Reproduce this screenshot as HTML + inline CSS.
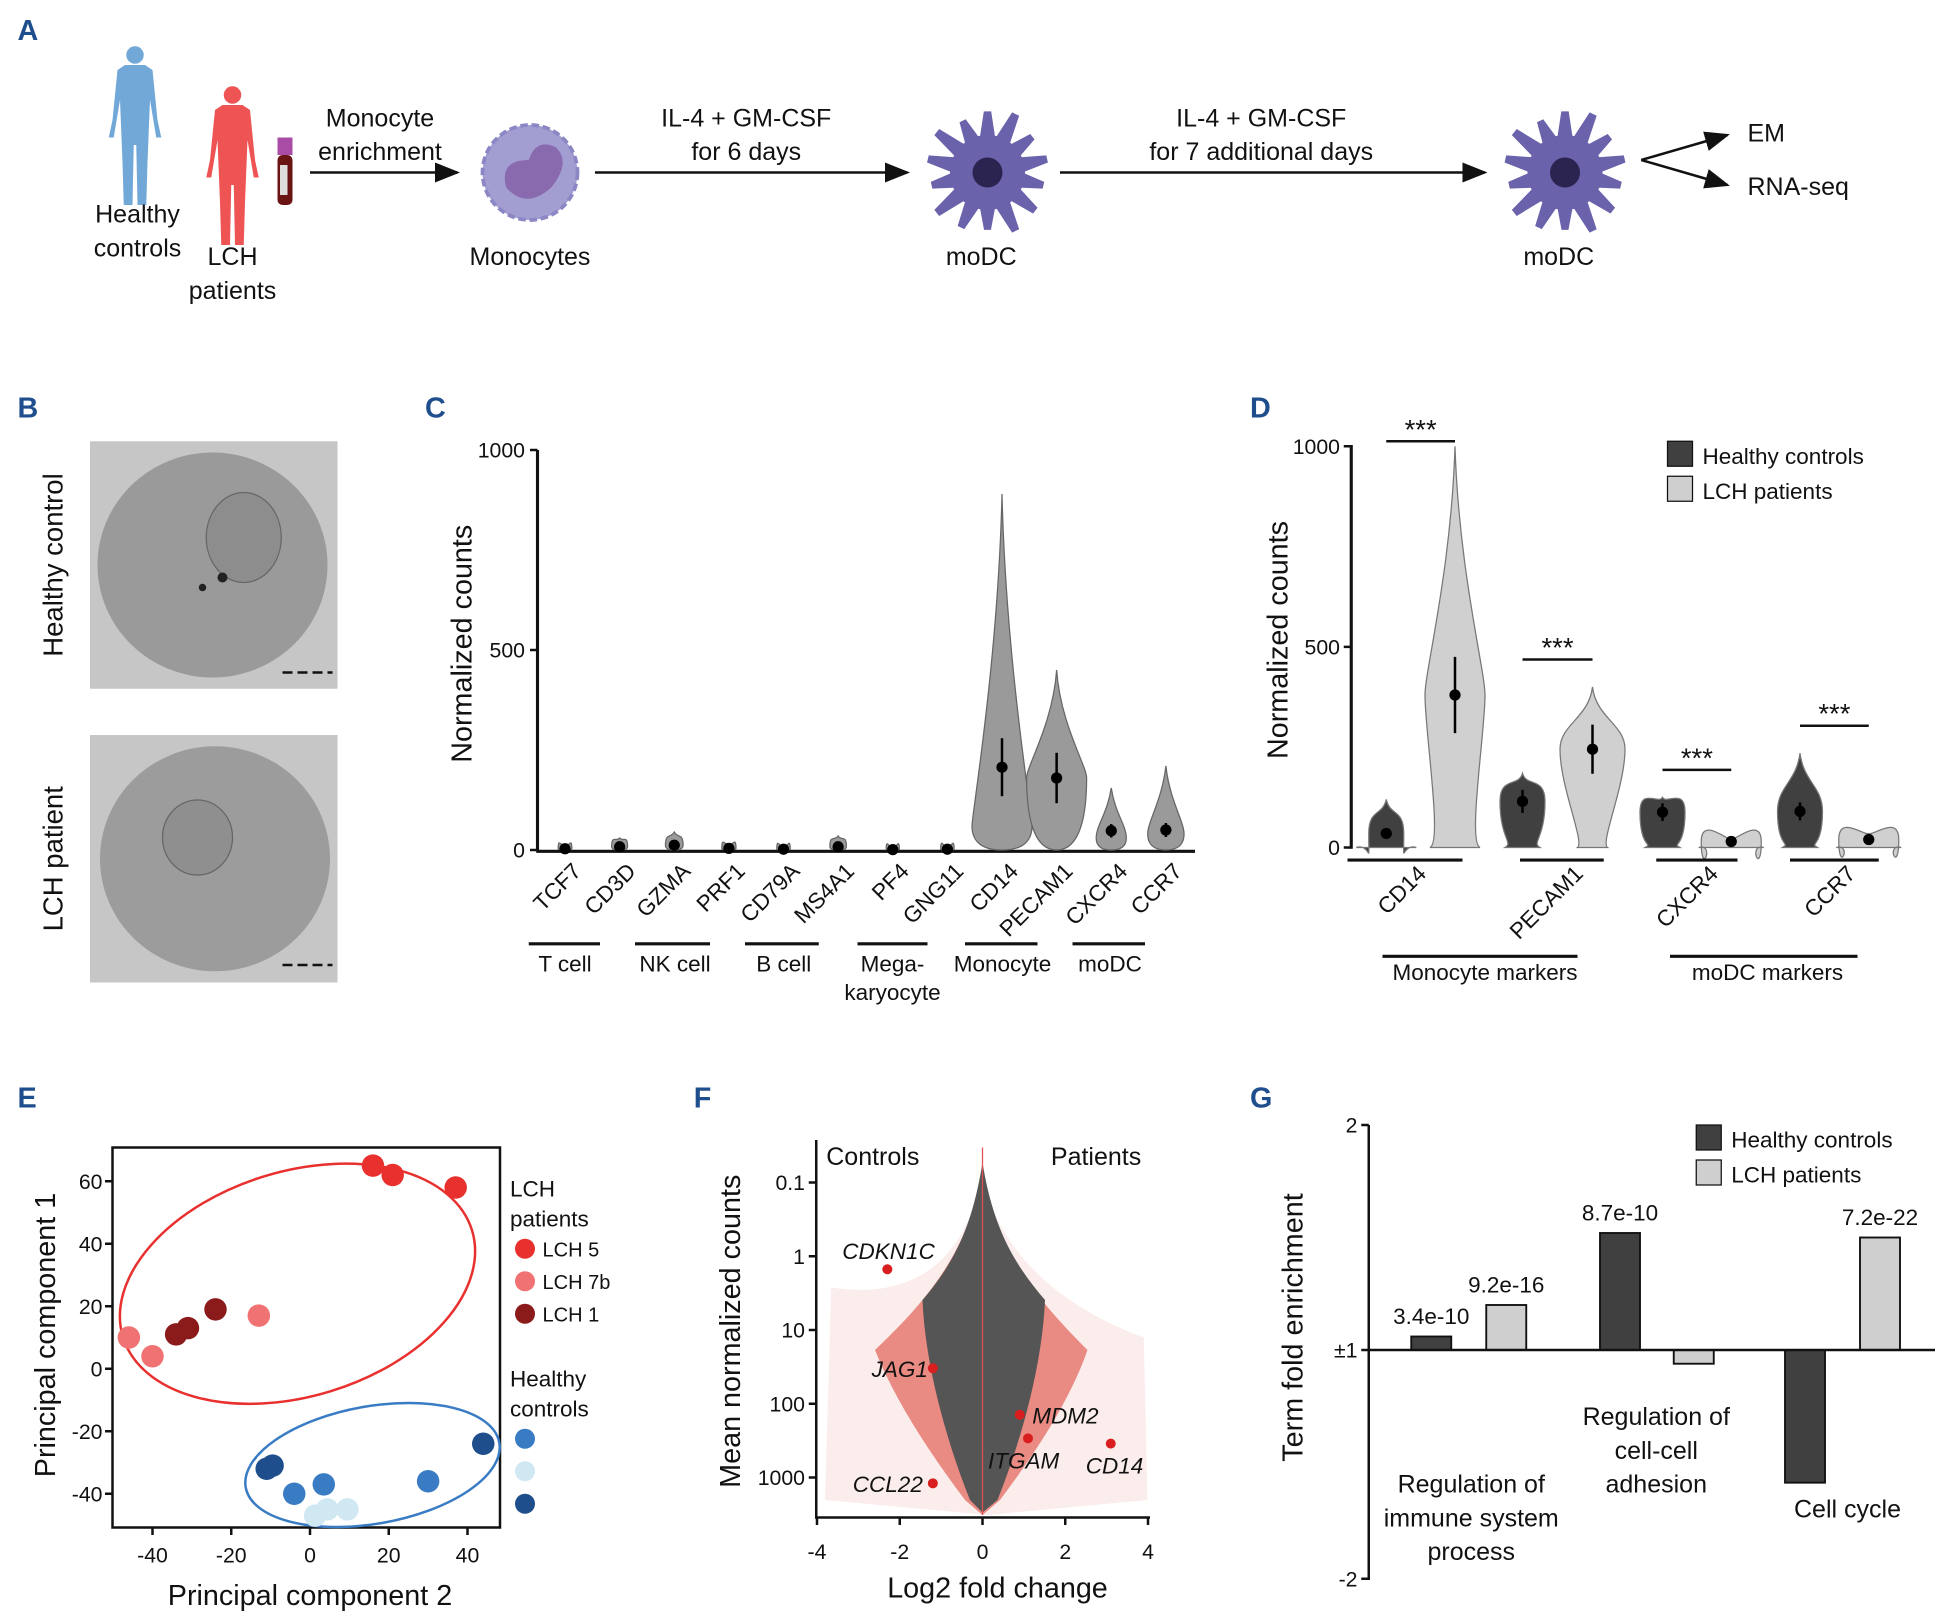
<!DOCTYPE html>
<html><head><meta charset="utf-8"><style>
html,body{margin:0;padding:0;background:#fff;}
svg{display:block;font-family:"Liberation Sans",Arial,sans-serif;}
.lbl{font-size:20px;fill:#111;}
.tick{font-size:17px;fill:#111;}
.pl{font-size:23px;font-weight:bold;fill:#1f4e8c;}
</style></head><body>
<svg id="fig" width="1950" height="1618" viewBox="0 0 1560 1294.4" xmlns="http://www.w3.org/2000/svg">
<defs><marker id="ah" markerWidth="10" markerHeight="10" refX="9" refY="5" orient="auto"><path d="M0,1 L10,5 L0,9 z" fill="#111"/></marker></defs>

<!-- Panel A -->
<g>
<text class="pl" x="14" y="32">A</text>
<g fill="#72a8d8">
<circle cx="108" cy="44" r="7"/><path d="M100,52 h16 l6,4 l4,40 l3,14 h-4 l-5,-30 l-2,50 l-1,34 h-7 l-1,-48 h-2 l-1,48 h-7 l-1,-34 l-2,-50 l-5,30 h-4 l3,-14 l4,-40 z"/>
</g>
<g fill="#ef5454">
<circle cx="186" cy="76" r="7"/><path d="M178,84 h16 l6,4 l4,40 l3,14 h-4 l-5,-30 l-2,50 l-1,34 h-7 l-1,-48 h-2 l-1,48 h-7 l-1,-34 l-2,-50 l-5,30 h-4 l3,-14 l4,-40 z"/>
</g>
<g><rect x="222" y="110" width="12" height="14" fill="#a84ca6"/><rect x="222" y="124" width="12" height="40" rx="4" fill="#6b1414"/><rect x="224" y="132" width="6" height="24" fill="#ddd"/></g>
<text class="lbl" x="110" y="178" text-anchor="middle">Healthy</text>
<text class="lbl" x="110" y="205" text-anchor="middle">controls</text>
<text class="lbl" x="186" y="212" text-anchor="middle">LCH</text>
<text class="lbl" x="186" y="239" text-anchor="middle">patients</text>
<text class="lbl" x="304" y="101" text-anchor="middle">Monocyte</text>
<text class="lbl" x="304" y="128" text-anchor="middle">enrichment</text>
<line x1="248" y1="138" x2="366" y2="138" stroke="#111" stroke-width="2" marker-end="url(#ah)"/>
<g><circle cx="424" cy="138" r="38" fill="#a39ed2" stroke="#8b86c4" stroke-width="3" stroke-dasharray="6 3"/><path d="M405,150 q-6,-22 18,-22 q6,-18 22,-10 q12,12 -4,32 q-20,18 -36,0z" fill="#8a6aae"/></g>
<text class="lbl" x="424" y="212" text-anchor="middle">Monocytes</text>
<text class="lbl" x="597" y="101" text-anchor="middle">IL-4 + GM-CSF</text>
<text class="lbl" x="597" y="128" text-anchor="middle">for 6 days</text>
<line x1="476" y1="138" x2="726" y2="138" stroke="#111" stroke-width="2" marker-end="url(#ah)"/>
<g id="dc1"></g>
<text class="lbl" x="785" y="212" text-anchor="middle">moDC</text>
<text class="lbl" x="1009" y="101" text-anchor="middle">IL-4 + GM-CSF</text>
<text class="lbl" x="1009" y="128" text-anchor="middle">for 7 additional days</text>
<line x1="848" y1="138" x2="1188" y2="138" stroke="#111" stroke-width="2" marker-end="url(#ah)"/>
<g id="dc2"></g>
<text class="lbl" x="1247" y="212" text-anchor="middle">moDC</text>
<line x1="1313" y1="128" x2="1382" y2="108" stroke="#111" stroke-width="2" marker-end="url(#ah)"/>
<line x1="1313" y1="128" x2="1382" y2="148" stroke="#111" stroke-width="2" marker-end="url(#ah)"/>
<text class="lbl" x="1398" y="113">EM</text>
<text class="lbl" x="1398" y="156">RNA-seq</text>
</g>

<!-- Panel B -->
<g>
<text class="pl" x="14" y="334">B</text>
<text class="lbl" transform="translate(50,452) rotate(-90)" text-anchor="middle" style="font-size:22px">Healthy control</text>
<text class="lbl" transform="translate(50,687) rotate(-90)" text-anchor="middle" style="font-size:22px">LCH patient</text>
<g><rect x="72" y="353" width="198" height="198" fill="#c6c6c6"/><ellipse cx="170" cy="452" rx="92" ry="90" fill="#9a9a9a"/><ellipse cx="195" cy="430" rx="30" ry="36" fill="#8d8d8d" stroke="#666"/><circle cx="178" cy="462" r="4" fill="#222"/><circle cx="162" cy="470" r="3" fill="#222"/><line x1="226" y1="538" x2="266" y2="538" stroke="#111" stroke-width="2" stroke-dasharray="8 4"/></g>
<g><rect x="72" y="588" width="198" height="198" fill="#c6c6c6"/><ellipse cx="172" cy="687" rx="92" ry="90" fill="#9c9c9c"/><ellipse cx="158" cy="670" rx="28" ry="30" fill="#8f8f8f" stroke="#666"/><line x1="226" y1="772" x2="266" y2="772" stroke="#111" stroke-width="2" stroke-dasharray="8 4"/></g>
</g>

<g id="panelC">
<text class="pl" x="340" y="334">C</text>
<text class="lbl" transform="translate(377,515) rotate(-90)" text-anchor="middle" style="font-size:23px">Normalized counts</text>
</g>
<g id="panelD">
<text class="pl" x="1000" y="334">D</text>
<text class="lbl" transform="translate(1030,512) rotate(-90)" text-anchor="middle" style="font-size:23px">Normalized counts</text>
<rect x="1334" y="353" width="20" height="20" fill="#404040" stroke="#111"/>
<text class="lbl" x="1362" y="371" style="font-size:18px">Healthy controls</text>
<rect x="1334" y="381" width="20" height="20" fill="#cfcfcf" stroke="#111"/>
<text class="lbl" x="1362" y="399" style="font-size:18px">LCH patients</text>
</g>
<g id="panelE">
<text class="pl" x="14" y="886">E</text>
</g>
<g id="panelF">
<text class="pl" x="555" y="886">F</text>
</g>
<g id="panelG">
<text class="pl" x="1000" y="886">G</text>
</g>
</svg>
<script>
const NS='http://www.w3.org/2000/svg';
// ---- data C ----
const cGenes=['TCF7','CD3D','GZMA','PRF1','CD79A','MS4A1','PF4','GNG11','CD14','PECAM1','CXCR4','CCR7'];
const cMax=[10,30,45,15,8,35,6,8,890,450,155,210];
const cMean=[3,8,12,4,2,8,1,2,207,180,48,50];
const cPeak=[3,8,12,4,2,8,1,2,60,180,30,40];
const cTicks=[0,500,1000];
const cGroups=['T cell','NK cell','B cell','Mega-','Monocyte','moDC'];
// ---- data D ----
const dGenes=['CD14','PECAM1','CXCR4','CCR7'];
const dHealthyMax=[120,185,125,235];
const dHealthyMean=[35,115,88,90];
const dLchMax=[1000,400,20,35];
const dLchMean=[380,245,15,20];
const dTicks=[0,500,1000];
// ---- data E ----
const eGroups=['LCH 5','LCH 7b','LCH 1','HC a','HC b','HC c'];
const ePC2=[[16,21,37],[-46,-40,-13],[-34,-31,-24],[3.5,30,-4],[4.4,9.5,1.3],[-9.5,-11,44]];
const ePC1=[[65,62,58],[10,4,17],[11,13,19],[-37,-36,-40],[-45,-45,-47],[-31,-32,-24]];
const eXTicks=[-40,-20,0,20,40];
const eYTicks=[60,40,20,0,-20,-40];
// ---- data F ----
const fGenes=['CDKN1C','JAG1','MDM2','ITGAM','CD14','CCL22'];
const fLfc=[-2.3,-1.2,0.9,1.1,3.1,-1.2];
const fMean=[1.5,33,141,295,347,1200];
const fXTicks=[-4,-2,0,2,4];
const fYTicks=[0.1,1,10,100,1000];
// ---- data G ----
const gTerms=['Regulation of immune system process','Regulation of cell-cell adhesion','Cell cycle'];
const gHealthy=[1.06,1.52,-1.58];
const gLch=[1.2,-1.06,1.5];
const gHealthyP=['3.4e-10','8.7e-10',''];
const gLchP=['9.2e-16','','7.2e-22'];

function mk(tag,attrs,parent,txt){const e=document.createElementNS(NS,tag);for(const k in attrs)e.setAttribute(k,attrs[k]);if(txt!==undefined)e.textContent=txt;parent.appendChild(e);return e;}

function dc(g,cx,cy){
  let d='';const n=14;
  for(let i=0;i<n;i++){const a=i/n*2*Math.PI;const a2=(i+0.5)/n*2*Math.PI;
    const r1=28,r2=46+(i%3)*3;
    d+=(i?'L':'M')+(cx+r1*Math.cos(a))+','+(cy+r1*Math.sin(a))+' L'+(cx+r2*Math.cos(a2-0.06))+','+(cy+r2*Math.sin(a2-0.06))+' L'+(cx+r2*Math.cos(a2+0.06))+','+(cy+r2*Math.sin(a2+0.06))+' ';}
  mk('path',{d:d+'Z',fill:'#6a62aa'},g);
  mk('circle',{cx,cy,r:30,fill:'#6a62aa'},g);
  mk('circle',{cx,cy,r:12,fill:'#2b2350'},g);
}
dc(document.getElementById('dc1'),790,138);dc(document.getElementById('dc2'),1252,138);

// ---- Panel C ----
(function(){
const g=document.getElementById('panelC');
const y0=680,y1=360,ys=v=>y0-(v/1000)*(y0-y1);
const x0=452,step=43.7,xs=i=>x0+i*step;
const ax=mk('line',{x1:430,y1:360,x2:430,y2:681,stroke:'#111','stroke-width':2.5},g);

const xa=mk('line',{x1:429,y1:681,x2:956,y2:681,stroke:'#111','stroke-width':2.5},g);

cTicks.forEach(t=>{mk('line',{x1:424,x2:430,y1:ys(t),y2:ys(t),stroke:'#111','stroke-width':2},g);
 const tx=mk('text',{x:420,y:ys(t)+6,'text-anchor':'end',class:'tick'},g,t);
 });
cGenes.forEach((gn,i)=>{
 const cx=xs(i),w=Math.min(24,5+cMax[i]/22);
 const top=ys(cMax[i]),pk=ys(cPeak[i]),bot=ys(0);
 const d=`M${cx},${top} C${cx+3},${top+ (pk-top)*0.5} ${cx+w},${pk-10} ${cx+w},${pk} C${cx+w},${(pk+bot)/2} ${cx+w*0.8},${bot} ${cx},${bot} C${cx-w*0.8},${bot} ${cx-w},${(pk+bot)/2} ${cx-w},${pk} C${cx-w},${pk-10} ${cx-3},${top+(pk-top)*0.5} ${cx},${top}Z`;
 const v=mk('path',{d,fill:'#9a9a9a',stroke:'#666','stroke-width':1},g);
 
 const m=mk('circle',{cx,cy:ys(cMean[i]),r:4.5,fill:'#000'},g);
 
 if(cMean[i]>30)mk('line',{x1:cx,x2:cx,y1:ys(cMean[i]*1.35),y2:ys(cMean[i]*0.65),stroke:'#000','stroke-width':2},g);
 const t=mk('text',{transform:`translate(${cx+14},${698}) rotate(-45)`,'text-anchor':'end',class:'tick',style:'font-size:18px'},g,gn);
 
});
const gx=[[423,480,474],[508,568,540],[596,655,627],[686,742,714],[772,830,802],[858,916,888]];
cGroups.forEach((gr,i)=>{mk('line',{x1:gx[i][0],x2:gx[i][1],y1:755,y2:755,stroke:'#111','stroke-width':2.5},g);
 const t=mk('text',{x:gx[i][2]-(i==0?22:0),y:777,'text-anchor':'middle',class:'tick',style:'font-size:18px'},g,gr);
 });
mk('text',{x:714,y:800,'text-anchor':'middle',class:'tick',style:'font-size:18px'},g,'karyocyte');
})();

// ---- Panel D ----
(function(){
const g=document.getElementById('panelD');
const y0=678,y1=357,ys=v=>y0-(v/1000)*(y0-y1);
const hx=[1109,1218,1330,1440],lx=[1164,1274,1385,1495];
const ax=mk('line',{x1:1081,y1:356,x2:1081,y2:679,stroke:'#111','stroke-width':2.5},g);

dTicks.forEach(t=>{mk('line',{x1:1075,x2:1081,y1:ys(t),y2:ys(t),stroke:'#111','stroke-width':2},g);
 const tx=mk('text',{x:1072,y:ys(t)+6,'text-anchor':'end',class:'tick'},g,t);
 });
function violin(cx,max,mean,fill,name,w,bw){
 const top=ys(max),bot=ys(0),pk=ys(mean);
 const d=`M${cx},${top} C${cx+3},${(top+pk)/2} ${cx+w},${pk-20} ${cx+w},${pk} C${cx+w},${pk+30} ${cx+bw*0.5},${bot-4} ${cx+bw},${bot} L${cx-bw},${bot} C${cx-bw*0.5},${bot-4} ${cx-w},${pk+30} ${cx-w},${pk} C${cx-w},${pk-20} ${cx-3},${(top+pk)/2} ${cx},${top}Z`;
 const v=mk('path',{d,fill,stroke:'#777','stroke-width':1},g);
 
 mk('line',{x1:cx,x2:cx,y1:ys(mean*1.25),y2:ys(mean*0.75),stroke:'#000','stroke-width':2},g);
 const m=mk('circle',{cx,cy:pk,r:4.5,fill:'#000'},g);
 
}
const lineX=[[1078,1170],[1216,1283],[1325,1390],[1432,1503]];
dGenes.forEach((gn,i)=>{
 violin(hx[i],dHealthyMax[i],dHealthyMean[i],'#404040','d-violin-healthy-'+gn.toLowerCase(),i==0?14:18,i==0?24:14);
 violin(lx[i],dLchMax[i],dLchMean[i],'#d0d0d0','d-violin-lch-'+gn.toLowerCase(),i==0?24:(i==1?26:24),i==0?20:(i==1?12:26));
 const top=ys(Math.max(dHealthyMax[i],dLchMax[i]))-(i==0?4:22);
 mk('line',{x1:hx[i],x2:lx[i],y1:top,y2:top,stroke:'#111','stroke-width':2},g);
 const s=mk('text',{x:(hx[i]+lx[i])/2,y:top-2,'text-anchor':'middle',style:'font-size:22px',fill:'#111'},g,'***');
 
 mk('line',{x1:lineX[i][0],x2:lineX[i][1],y1:688,y2:688,stroke:'#111','stroke-width':2.5},g);
 const c=(lineX[i][0]+lineX[i][1])/2;
 const t=mk('text',{transform:`translate(${c+18},${700}) rotate(-45)`,'text-anchor':'end',class:'tick',style:'font-size:18px'},g,gn);
 
});
mk('line',{x1:1106,x2:1262,y1:765,y2:765,stroke:'#111','stroke-width':2.5},g);
mk('line',{x1:1336,x2:1486,y1:765,y2:765,stroke:'#111','stroke-width':2.5},g);
mk('text',{x:1188,y:784,'text-anchor':'middle',class:'tick',style:'font-size:18px'},g,'Monocyte markers');
mk('text',{x:1414,y:784,'text-anchor':'middle',class:'tick',style:'font-size:18px'},g,'moDC markers');
})();

// ---- Panel E ----
(function(){
const g=document.getElementById('panelE');
const xs=v=>248+v*3.15,ys=v=>1095-v*2.5;
const cols=['#e8312f','#f07272','#8b1a1a','#3a7cc4','#cfe8f2','#1f4e8c'];
const b=mk('rect',{x:90,y:918,width:310,height:304,fill:'none',stroke:'#111','stroke-width':2},g);

mk('ellipse',{cx:238,cy:1027,rx:146,ry:90,fill:'none',stroke:'#e8312f','stroke-width':2,transform:'rotate(-17 238 1027)'},g);
mk('ellipse',{cx:298,cy:1172,rx:103,ry:47,fill:'none',stroke:'#3a7cc4','stroke-width':2,transform:'rotate(-10 298 1172)'},g);
eXTicks.forEach(t=>{mk('line',{x1:xs(t),x2:xs(t),y1:1222,y2:1228,stroke:'#111','stroke-width':2},g);
 const tx=mk('text',{x:xs(t),y:1250,'text-anchor':'middle',class:'tick'},g,t);
 });
eYTicks.forEach(t=>{mk('line',{x1:84,x2:90,y1:ys(t),y2:ys(t),stroke:'#111','stroke-width':2},g);
 const tx=mk('text',{x:82,y:ys(t)+6,'text-anchor':'end',class:'tick'},g,t);
 });
eGroups.forEach((gr,i)=>{ePC2[i].forEach((x,j)=>{const c=mk('circle',{cx:xs(x),cy:ys(ePC1[i][j]),r:9,fill:cols[i]},g);
 });});
const t1=mk('text',{x:248,y:1284,'text-anchor':'middle',class:'lbl',style:'font-size:23px'},g,'Principal component 2');

const t2=mk('text',{transform:'translate(44,1068) rotate(-90)','text-anchor':'middle',class:'lbl',style:'font-size:23px'},g,'Principal component 1');

mk('text',{x:408,y:957,class:'tick',style:'font-size:18px'},g,'LCH');
mk('text',{x:408,y:981,class:'tick',style:'font-size:18px'},g,'patients');
['LCH 5','LCH 7b','LCH 1'].forEach((l,i)=>{mk('circle',{cx:420,cy:999+i*26,r:8,fill:cols[i]},g);
 const t=mk('text',{x:434,y:1005+i*26,class:'tick',style:'font-size:16px'},g,l);
 });
mk('text',{x:408,y:1109,class:'tick',style:'font-size:18px'},g,'Healthy');
mk('text',{x:408,y:1133,class:'tick',style:'font-size:18px'},g,'controls');
[3,4,5].forEach((c,i)=>{const e=mk('circle',{cx:420,cy:1151+i*26,r:8,fill:cols[c]},g);
 });
})();

// ---- Panel F ----
(function(){
const g=document.getElementById('panelF');
const xs=v=>786+v*33.1,ys=v=>1005+Math.log10(v)*59;
mk('path',{d:'M786,940 C800,1010 860,1050 915,1070 L918,1200 L790,1212 L660,1200 L665,1030 C730,1040 772,1010 786,940Z',fill:'#f7dcd8',opacity:0.5},g);
mk('path',{d:'M786,935 C796,1000 830,1040 870,1080 C856,1120 830,1160 800,1200 L786,1212 L772,1200 C742,1160 716,1120 700,1080 C742,1040 776,1000 786,935Z',fill:'#e36a60',opacity:0.75},g);
mk('path',{d:'M786,930 C794,980 810,1010 836,1040 C834,1090 818,1150 798,1200 L786,1210 L776,1200 C756,1150 740,1090 738,1040 C764,1010 778,980 786,930Z',fill:'#555'},g);
mk('line',{x1:786,x2:786,y1:918,y2:1212,stroke:'#e05050','stroke-width':1},g);
const ax=mk('line',{x1:653,y1:912,x2:653,y2:1214,stroke:'#111','stroke-width':2},g);

const xa=mk('line',{x1:652,y1:1214,x2:920,y2:1214,stroke:'#111','stroke-width':2},g);

fXTicks.forEach(t=>{mk('line',{x1:xs(t),x2:xs(t),y1:1214,y2:1220,stroke:'#111','stroke-width':2},g);
 const tx=mk('text',{x:xs(t),y:1247,'text-anchor':'middle',class:'tick'},g,t);
 });
fYTicks.forEach(t=>{mk('line',{x1:647,x2:653,y1:ys(t),y2:ys(t),stroke:'#111','stroke-width':2},g);
 const tx=mk('text',{x:644,y:ys(t)+6,'text-anchor':'end',class:'tick'},g,t);
 });
const ldx={CDKN1C:38,JAG1:-4,MDM2:10,ITGAM:-32,CD14:-20,CCL22:-8};
const ldy={CDKN1C:-8,JAG1:7,MDM2:7,ITGAM:24,CD14:24,CCL22:7};
fGenes.forEach((gn,i)=>{const x=xs(fLfc[i]),y=ys(fMean[i]);
 const c=mk('circle',{cx:x,cy:y,r:4,fill:'#d81e1e'},g);
 
 const t=mk('text',{x:x+ldx[gn],y:y+ldy[gn],'text-anchor':(gn=='MDM2'||gn=='ITGAM'||gn=='CD14')?'start':'end',class:'tick',style:'font-size:18px;font-style:italic'},g,gn);
 });
mk('text',{x:661,y:932,class:'lbl'},g,'Controls');
mk('text',{x:913,y:932,'text-anchor':'end',class:'lbl'},g,'Patients');
const t1=mk('text',{x:798,y:1278,'text-anchor':'middle',class:'lbl',style:'font-size:23px'},g,'Log2 fold change');

const t2=mk('text',{transform:'translate(592,1065) rotate(-90)','text-anchor':'middle',class:'lbl',style:'font-size:23px'},g,'Mean normalized counts');

})();

// ---- Panel G ----
(function(){
const g=document.getElementById('panelG');
const y1=1080,ys=v=>v>=0?y1-(v-1)*180:y1+(-v-1)*183;
const hx=[1129,1280,1428],lx=[1189,1339,1488],bw=32;
const ax=mk('line',{x1:1095,y1:900,x2:1095,y2:1264,stroke:'#111','stroke-width':2},g);

[[2,900,'2'],[1,1080,'±1'],[-2,1263,'-2']].forEach(t=>{mk('line',{x1:1089,x2:1095,y1:t[1],y2:t[1],stroke:'#111','stroke-width':2},g);
 const tx=mk('text',{x:1086,y:t[1]+6,'text-anchor':'end',class:'tick'},g,t[2]);
 });
function bar(x,v,fill,name,p){const y=ys(v);const b=mk('rect',{x,y:Math.min(y,y1),width:bw,height:Math.abs(y-y1),fill,stroke:'#111','stroke-width':1.5},g);
 
 if(p){const t=mk('text',{x:x+bw/2,y:y-10,'text-anchor':'middle',class:'tick',style:'font-size:18px'},g,p);
 }}
gTerms.forEach((tm,i)=>{bar(hx[i],gHealthy[i],'#404040','g-bar-healthy-'+i,gHealthyP[i]);bar(lx[i],gLch[i],'#cfcfcf','g-bar-lch-'+i,gLchP[i]);});
mk('line',{x1:1095,x2:1548,y1:y1,y2:y1,stroke:'#111','stroke-width':2},g);
const lines=[[['Regulation of',1194],['immune system',1221],['process',1248]],[['Regulation of',1140],['cell-cell',1167],['adhesion',1194]],[['Cell cycle',1214]]];
const cxs=[1177,1325,1478];
lines.forEach((ls,i)=>ls.forEach(l=>{const t=mk('text',{x:cxs[i],y:l[1],'text-anchor':'middle',class:'lbl'},g,l[0]);
 }));
const yt=mk('text',{transform:'translate(1042,1062) rotate(-90)','text-anchor':'middle',class:'lbl',style:'font-size:23px'},g,'Term fold enrichment');

mk('rect',{x:1357,y:900,width:20,height:20,fill:'#404040',stroke:'#111'},g);
mk('text',{x:1385,y:918,class:'lbl',style:'font-size:18px'},g,'Healthy controls');
mk('rect',{x:1357,y:928,width:20,height:20,fill:'#cfcfcf',stroke:'#111'},g);
mk('text',{x:1385,y:946,class:'lbl',style:'font-size:18px'},g,'LCH patients');
})();
</script>
</body></html>
